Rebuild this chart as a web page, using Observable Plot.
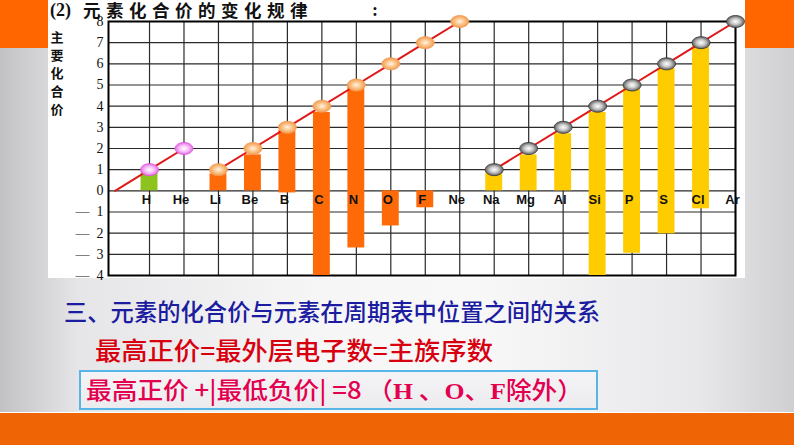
<!DOCTYPE html>
<html>
<head>
<meta charset="utf-8">
<script src="https://cdn.jsdelivr.net/npm/d3@7"></script>
<script src="https://cdn.jsdelivr.net/npm/@observablehq/plot@0.6"></script>
<style>
  html, body { margin: 0; padding: 0; }
  body {
    width: 794px; height: 445px; overflow: hidden; position: relative;
    background: linear-gradient(to right, #c2c2c4 0%, #e6e6e8 10%, #f6f6f7 40%, #f8f8f9 60%, #e8e8ea 88%, #cfcfd2 100%);
    font-family: "Noto Sans CJK SC", sans-serif;
  }
  .abs { position: absolute; }
  #orangeTL { left: 0; top: 0; width: 48px; height: 48px; background: #ff6600; }
  #orangeTR { left: 745px; top: 0; width: 49px; height: 48px; background: #ff6600; }
  #white { left: 48px; top: 0; width: 697px; height: 278px; background: #fff; }
  #chart { left: 48px; top: 0; }
  #t2 { left: 50px; top: 1px; font: bold 18px/18px "Liberation Serif", serif; color: #111; }
  #t2cjk { left: 83px; top: 1px; font: bold 17.5px/18px "Noto Sans CJK SC", sans-serif; letter-spacing: 5.5px; color: #111; }
  #tcolon { left: 372px; top: 1px; font: bold 18px/18px "Liberation Serif", serif; color: #111; }
  .yt { position: absolute; left: 49px; width: 16px; height: 16px; font: bold 13px/16px "Noto Sans CJK SC", sans-serif; color: #111; text-align: center; }
  #line1 { left: 64px; top: 297px; font: 500 23.5px/28px "Noto Sans CJK SC", sans-serif; color: #1c1ca0; white-space: nowrap; transform-origin: left center; }
  #line2 { left: 95px; top: 334px; font: 500 25px/30px "Noto Sans CJK SC", sans-serif; color: #d8000f; white-space: nowrap; transform-origin: left center; }
  #box { left: 79px; top: 370px; width: 515px; height: 36px; border: 2px solid #58b6e6; background: linear-gradient(#f4f4f6, #ececef); }
  #line3 { left: 86px; top: 373px; font: 500 24px/32px "Noto Sans CJK SC", sans-serif; color: #e3004f; white-space: nowrap; transform-origin: left center; }
  #line3 .s { font-family: "Liberation Serif", serif; font-weight: bold; }
  #bandLine { left: 0; top: 412px; width: 794px; height: 1px; background: #fff; }
  #band { left: 0; top: 413px; width: 794px; height: 32px; background: #ef6404; }
</style>
</head>
<body>
<svg width="0" height="0" style="position:absolute">
  <defs>
    <radialGradient id="gMag" cx="50%" cy="50%" r="55%">
      <stop offset="0" stop-color="#ffffff"/>
      <stop offset="0.45" stop-color="#f8c4f8"/>
      <stop offset="1" stop-color="#e45ae4"/>
    </radialGradient>
    <radialGradient id="gOra" cx="50%" cy="50%" r="55%">
      <stop offset="0" stop-color="#fff4e8"/>
      <stop offset="0.45" stop-color="#fcc890"/>
      <stop offset="1" stop-color="#f29440"/>
    </radialGradient>
    <radialGradient id="gGry" cx="50%" cy="50%" r="55%">
      <stop offset="0" stop-color="#ffffff"/>
      <stop offset="0.45" stop-color="#c8c8c8"/>
      <stop offset="1" stop-color="#4a4a4a"/>
    </radialGradient>
  </defs>
</svg>
<div id="orangeTL" class="abs"></div>
<div id="orangeTR" class="abs"></div>
<div id="white" class="abs"></div>
<div id="chart" class="abs"></div>
<div id="t2" class="abs">(2)</div>
<div id="t2cjk" class="abs">元素化合价的变化规律</div>
<div id="tcolon" class="abs">:</div>
<div class="yt" style="top:29px">主</div>
<div class="yt" style="top:47px">要</div>
<div class="yt" style="top:65px">化</div>
<div class="yt" style="top:83px">合</div>
<div class="yt" style="top:101px">价</div>
<div id="line1" class="abs">三、元素的化合价与元素在周期表中位置之间的关系</div>
<div id="line2" class="abs">最高正价=最外层电子数=主族序数</div>
<div id="box" class="abs"></div>
<div id="line3" class="abs">最高正价 +|最低负价| =8 （<span class="s">H</span> 、<span class="s">O</span>、<span class="s">F</span>除外）</div>
<div id="bandLine" class="abs"></div>
<div id="band" class="abs"></div>
<script>
// ---- data ----
const elements = ["H","He","Li","Be","B","C","N","O","F","Ne","Na","Mg","Al","Si","P","S","Cl","Ar"];
const periods = [1,1,2,2,2,2,2,2,2,2,3,3,3,3,3,3,3,3];
const highestValence = [1,2,1,2,3,4,5,6,7,8,1,2,3,4,5,6,7,8];
const barTop = [0.85,null,0.8,1.7,2.85,3.7,4.93,0,0,null,0.85,1.7,2.7,3.7,4.9,5.78,6.96,null];
const barBottom = [0,null,0,0,-0.1,-4,-2.7,-1.66,-0.8,null,0,0,0,-4,-2.95,-2.03,-0.85,null];
const yTicks = [-4,-3,-2,-1,0,1,2,3,4,5,6,7,8];
const yTickLabels = ["—\u00a0\u00a04","—\u00a0\u00a03","—\u00a0\u00a02","—\u00a0\u00a01","0","1","2","3","4","5","6","7","8"];
const period1LineStart = {index: -1, value: 0, period: 1};

// ---- derived table ----
const table = elements.map((name, i) => ({
  name, index: i, period: periods[i], valence: highestValence[i],
  top: barTop[i], bottom: barBottom[i]
}));
const bars = table.filter(d => d.top != null);
const linePts = [period1LineStart, ...table.map(d => ({index: d.index, value: d.valence, period: d.period}))];

const barColor = {1: "#8cc31c", 2: "#ff6a08", 3: "#ffcc00"};
const markerFill = {1: "url(#gMag)", 2: "url(#gOra)", 3: "url(#gGry)"};
const markerStroke = {1: "#d85ad8", 2: "#f0a060", 3: "#3a3a3a"};

const ellipse = {
  draw(ctx, size) {
    const r = Math.sqrt(size / Math.PI), rx = r * 1.2, ry = r * 0.8, k = 0.5523;
    ctx.moveTo(rx, 0);
    ctx.bezierCurveTo(rx, ry * k, rx * k, ry, 0, ry);
    ctx.bezierCurveTo(-rx * k, ry, -rx, ry * k, -rx, 0);
    ctx.bezierCurveTo(-rx, -ry * k, -rx * k, -ry, 0, -ry);
    ctx.bezierCurveTo(rx * k, -ry, rx, -ry * k, rx, 0);
    ctx.closePath();
  }
};

const markerMarks = [1, 2, 3].map(p => Plot.dot(table.filter(d => d.period === p), {
  x: "index", y: "valence", r: 7.5, symbol: ellipse,
  fill: markerFill[p], stroke: markerStroke[p], strokeWidth: 0.8
}));

const plot = Plot.plot({
  width: 697, height: 290,
  marginLeft: 60, marginRight: 10, marginTop: 21, marginBottom: 15,
  style: {fontFamily: "Liberation Serif, serif", fontSize: "14px", color: "#111", background: "transparent", overflow: "visible"},
  x: {domain: [-1.19, 17], axis: null},
  y: {domain: [-4, 8], ticks: yTicks, tickFormat: d => yTickLabels[yTicks.indexOf(d)], tickSize: 0, tickPadding: 5, label: null},
  marks: [
    Plot.ruleY(yTicks, {stroke: "#2a2a2a", strokeWidth: 1.2}),
    Plot.ruleX(table, {x: "index", stroke: "#2a2a2a", strokeWidth: 1.2}),
    Plot.frame({stroke: "#000", strokeWidth: 2}),
    Plot.rect(bars, {
      x1: d => d.index - 0.245, x2: d => d.index + 0.245,
      y1: "bottom", y2: "top",
      fill: d => barColor[d.period]
    }),
    Plot.text(table, {
      x: "index", y: 0, text: "name", dy: 9, dx: -3,
      fontFamily: "Liberation Sans, Arial, sans-serif", fontWeight: "bold", fontSize: 13, fill: "#111"
    }),
    Plot.line(linePts, {x: "index", y: "value", z: "period", stroke: "#e01818", strokeWidth: 2}),
    ...markerMarks
  ]
});
document.getElementById("chart").appendChild(plot);

// fit bottom texts to their measured widths in the reference
function fit(id, w) {
  const el = document.getElementById(id);
  const cur = el.getBoundingClientRect().width;
  el.style.transform = `scaleX(${w / cur})`;
}
fit("line1", 536);
fit("line2", 398);
fit("line3", 497);
</script>
</body>
</html>
